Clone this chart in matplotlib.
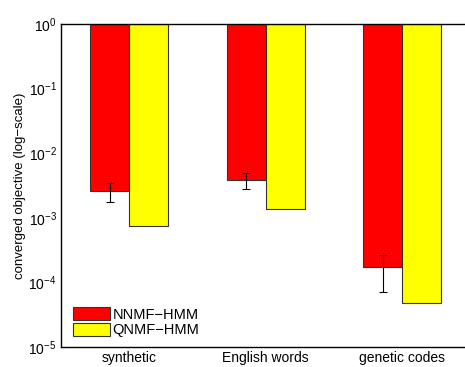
import numpy as np
import matplotlib
matplotlib.use('Agg')
import matplotlib.pyplot as plt

plt.rcParams['font.family'] = ['Liberation Sans', 'DejaVu Sans']

# values (log axis, bars hang from 1)
categories = ['synthetic', 'English words', 'genetic codes']
nnmf = [2.6e-3, 3.85e-3, 1.71e-4]
nnmf_lo = [1.76e-3, 2.8e-3, 7.1e-5]
nnmf_hi = [3.5e-3, 4.9e-3, 2.69e-4]
qnmf = [7.4e-4, 1.35e-3, 4.73e-5]

x = np.arange(1, len(categories) + 1)
w = 0.285

fig = plt.figure(figsize=(4.65, 3.67), dpi=100)
ax = fig.add_axes([0.131, 0.0545, 0.881, 0.880])

nn = np.array(nnmf)
err = [nn - np.array(nnmf_lo), np.array(nnmf_hi) - nn]
ax.bar(x - w / 2, nn - 1, bottom=1, width=w, color='#ff0000',
       edgecolor='#333333', linewidth=0.8, label='NNMF\u2212HMM')
ax.bar(x + w / 2, np.array(qnmf) - 1, bottom=1, width=w, color='#ffff00',
       edgecolor='#333333', linewidth=0.8, label='QNMF\u2212HMM')
ax.errorbar(x - w / 2, nn, yerr=err, fmt='none', ecolor='black',
            elinewidth=0.8, capsize=3, capthick=0.8)

ax.set_yscale('log')
ax.set_ylim(1e-5, 1)
ax.set_xlim(0.5, 3.5)
ax.set_xticks(x)
ax.set_xticklabels(categories, fontsize=10)
ax.tick_params(axis='both', length=0, labelsize=10, pad=3)
ax.tick_params(axis='y', which='minor', length=0)
ax.set_ylabel('converged objective (log\u2212scale)', fontsize=9.5, labelpad=2)
for s in ax.spines.values():
    s.set_linewidth(1.0)
ax.spines['right'].set_visible(False)

ax.legend(loc='lower left', bbox_to_anchor=(0.03, 0.03), frameon=False,
          fontsize=10.5, handlelength=2.5, handleheight=0.95,
          handletextpad=0.2, labelspacing=0.1, borderaxespad=0,
          borderpad=0)

fig.savefig('out.png', dpi=100)
